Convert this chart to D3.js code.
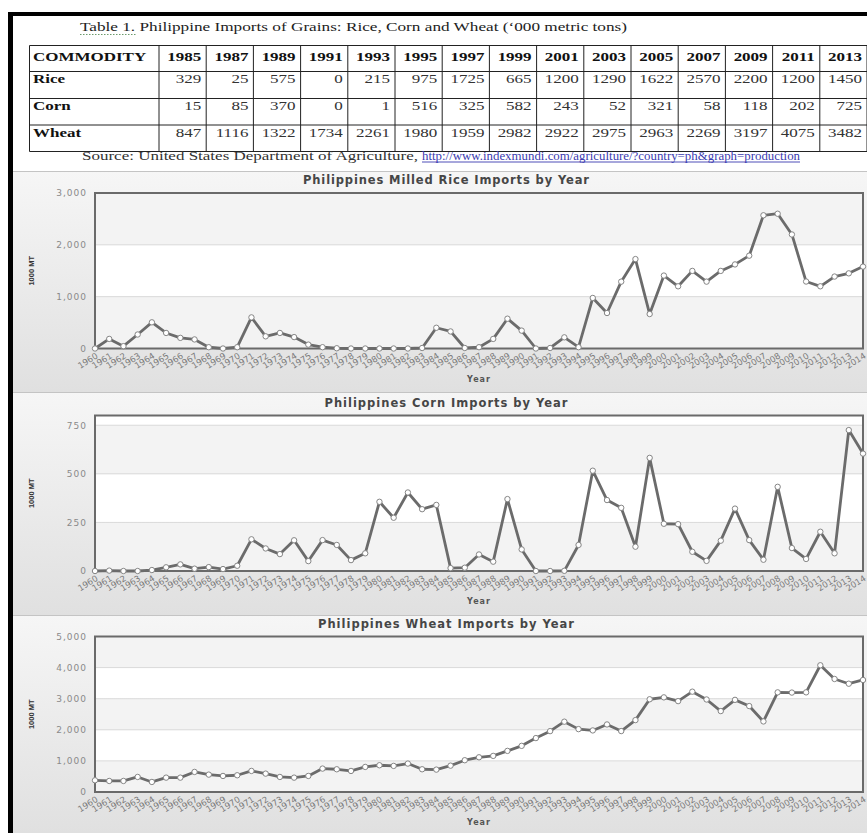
<!DOCTYPE html>
<html>
<head>
<meta charset="utf-8">
<script src="https://cdn.jsdelivr.net/npm/d3@7/dist/d3.min.js"></script>
<style>
  body { margin: 0; background: #fff; }
  svg { display: block; }
</style>
</head>
<body>
<svg id="page" width="867" height="833"></svg>
<script>
// ---- Table 1 data ('000 metric tons) ----
const tableYears = [1985, 1987, 1989, 1991, 1993, 1995, 1997, 1999, 2001, 2003, 2005, 2007, 2009, 2011, 2013];
const tableCommodities = ["Rice", "Corn", "Wheat"];
const tableRice  = [329, 25, 575, 0, 215, 975, 1725, 665, 1200, 1290, 1622, 2570, 2200, 1200, 1450];
const tableCorn  = [15, 85, 370, 0, 1, 516, 325, 582, 243, 52, 321, 58, 118, 202, 725];
const tableWheat = [847, 1116, 1322, 1734, 2261, 1980, 1959, 2982, 2922, 2975, 2963, 2269, 3197, 4075, 3482];

// ---- Yearly import series (1000 MT) ----
const years = [1960, 1961, 1962, 1963, 1964, 1965, 1966, 1967, 1968, 1969,
               1970, 1971, 1972, 1973, 1974, 1975, 1976, 1977, 1978, 1979,
               1980, 1981, 1982, 1983, 1984, 1985, 1986, 1987, 1988, 1989,
               1990, 1991, 1992, 1993, 1994, 1995, 1996, 1997, 1998, 1999,
               2000, 2001, 2002, 2003, 2004, 2005, 2006, 2007, 2008, 2009,
               2010, 2011, 2012, 2013, 2014];
const riceImports = [0, 185, 45, 270, 505, 300, 205, 175, 25, 0,
                     25, 600, 235, 300, 220, 75, 25, 5, 0, 0,
                     0, 0, 0, 10, 400, 329, 10, 25, 185, 575,
                     345, 0, 10, 215, 25, 975, 685, 1290, 1725, 665,
                     1407, 1200, 1497, 1290, 1497, 1622, 1791, 2570, 2600, 2200,
                     1292, 1200, 1388, 1450, 1580];
const cornImports = [0, 2, 0, 0, 5, 19, 34, 12, 20, 10,
                     27, 163, 116, 87, 158, 51, 159, 134, 56, 91,
                     356, 274, 404, 318, 340, 15, 17, 85, 48, 370,
                     111, 0, 0, 1, 134, 516, 365, 325, 125, 582,
                     243, 241, 99, 52, 156, 321, 159, 58, 433, 118,
                     62, 202, 91, 725, 604];
const wheatImports = [376, 355, 355, 484, 323, 462, 462, 645, 559, 516,
                      538, 677, 591, 484, 462, 516, 753, 731, 677, 806,
                      860, 839, 914, 731, 720, 847, 1022, 1116, 1161, 1322,
                      1484, 1734, 1957, 2261, 2022, 1980, 2172, 1959, 2312, 2982,
                      3043, 2922, 3226, 2975, 2602, 2963, 2763, 2269, 3204, 3197,
                      3204, 4075, 3634, 3482, 3602];

// ---- Axis ticks and titles ----
const riceTicks  = [0, 1000, 2000, 3000];
const cornTicks  = [0, 250, 500, 750];
const wheatTicks = [0, 1000, 2000, 3000, 4000, 5000];
const yMaxima    = [3000, 800, 5000];
const chartTitles = [
  "Philippines Milled Rice Imports by Year",
  "Philippines Corn Imports by Year",
  "Philippines Wheat Imports by Year"
];
const yAxisTitle = "1000 MT";
const xAxisTitle = "Year";
const tableCaption = "Table 1. Philippine Imports of Grains: Rice, Corn and Wheat (\u2018000 metric tons)";
const sourceText = "Source: United States Department of Agriculture, ";
const sourceLink = "http://www.indexmundi.com/agriculture/?country=ph&graph=production";

const svg = d3.select("#page");
const W = 867, H = 833;

// gradient for chart panels
const defs = svg.append("defs");
const grad = defs.append("linearGradient").attr("id", "panelGrad")
  .attr("x1", 0).attr("y1", 0).attr("x2", 0).attr("y2", 1);
grad.append("stop").attr("offset", "0%").attr("stop-color", "#f6f6f6");
grad.append("stop").attr("offset", "100%").attr("stop-color", "#e0e0e0");

// ---------------- Table section ----------------
const serif = "'Liberation Serif', 'Times New Roman', serif";
const stretch = 1.36;

svg.append("text")
  .attr("x", 80).attr("y", 31)
  .attr("font-family", serif).attr("font-size", 13.5).attr("fill", "#222")
  .attr("textLength", 547).attr("lengthAdjust", "spacingAndGlyphs")
  .text(tableCaption);
svg.append("line")
  .attr("x1", 80).attr("x2", 137).attr("y1", 34.5).attr("y2", 34.5)
  .attr("stroke", "#6c9a6c").attr("stroke-width", 1).attr("stroke-dasharray", "1.5,1.5");

const tLeft = 29.5, tFirstCol = 159, tRight = 867;
const rowEdges = [45.5, 71.5, 98.5, 125, 151.5];
const col = d3.scaleBand().domain(tableYears).range([tFirstCol, tRight]);
const table = svg.append("g");

// grid lines
rowEdges.forEach(yy => table.append("line")
  .attr("x1", tLeft).attr("x2", tRight).attr("y1", yy).attr("y2", yy)
  .attr("stroke", "#222").attr("stroke-width", 1));
[tLeft, tFirstCol].concat(tableYears.map(d => col(d) + col.bandwidth())).forEach(xx =>
  table.append("line")
    .attr("x1", xx).attr("x2", xx).attr("y1", rowEdges[0]).attr("y2", rowEdges[4])
    .attr("stroke", "#222").attr("stroke-width", 1));

function cellText(x, y, str, anchor, bold, fill) {
  table.append("text")
    .attr("transform", `translate(${x},${y}) scale(${stretch},1)`)
    .attr("text-anchor", anchor)
    .attr("font-family", serif).attr("font-size", 12.5)
    .attr("font-weight", bold ? "bold" : "normal")
    .attr("fill", fill)
    .text(str);
}
cellText(33, rowEdges[0] + 15.5, "COMMODITY", "start", true, "#111");
tableYears.forEach(yr => cellText(col(yr) + col.bandwidth() - 5, rowEdges[0] + 15.5, yr, "end", true, "#111"));
const tableRows = [tableRice, tableCorn, tableWheat];
tableCommodities.forEach((name, i) => {
  const base = rowEdges[i + 1] + 11.8;
  cellText(33, base, name, "start", true, "#111");
  tableRows[i].forEach((v, j) =>
    cellText(col(tableYears[j]) + col.bandwidth() - 5, base, v, "end", false, "#333"));
});

svg.append("text")
  .attr("x", 82).attr("y", 160)
  .attr("font-family", serif).attr("font-size", 12).attr("fill", "#333")
  .attr("textLength", 336).attr("lengthAdjust", "spacingAndGlyphs")
  .text(sourceText);
svg.append("text")
  .attr("x", 422).attr("y", 160)
  .attr("font-family", serif).attr("font-size", 12).attr("fill", "#3b3bb0")
  .attr("textLength", 378).attr("lengthAdjust", "spacingAndGlyphs")
  .text(sourceLink);
svg.append("line")
  .attr("x1", 422).attr("x2", 800).attr("y1", 162).attr("y2", 162)
  .attr("stroke", "#3b3bb0").attr("stroke-width", 0.9);

// ---------------- Chart panels ----------------
const panelTops = [171, 392, 615];
const panelBottoms = [392, 615, H];
const plotTops = [193, 415.5, 636.5];
const titleWidths = [286, 243, 256];
const plotH = 155.5;
const plotL = 95, plotR = 863;
const seriesList = [riceImports, cornImports, wheatImports];
const tickList = [riceTicks, cornTicks, wheatTicks];

const x = d3.scaleLinear().domain([years[0], years[years.length - 1]]).range([plotL, plotR]);

seriesList.forEach((values, i) => {
  const g = svg.append("g");
  const top = plotTops[i], bottom = top + plotH;

  g.append("rect")
    .attr("x", 13).attr("y", panelTops[i])
    .attr("width", W - 13).attr("height", panelBottoms[i] - panelTops[i])
    .attr("fill", "url(#panelGrad)");
  g.append("line")
    .attr("x1", 13).attr("x2", W).attr("y1", panelTops[i] + 0.5).attr("y2", panelTops[i] + 0.5)
    .attr("stroke", "#c4c4c4").attr("stroke-width", 1);

  const y = d3.scaleLinear().domain([0, yMaxima[i]]).range([bottom, top]);
  const ticks = tickList[i];

  // alternating horizontal bands
  const bandEdges = ticks.concat(ticks[ticks.length - 1] < yMaxima[i] ? [yMaxima[i]] : []);
  for (let k = 0; k < bandEdges.length - 1; k++) {
    g.append("rect")
      .attr("x", plotL).attr("width", plotR - plotL)
      .attr("y", y(bandEdges[k + 1])).attr("height", y(bandEdges[k]) - y(bandEdges[k + 1]))
      .attr("fill", k % 2 === 0 ? "#f3f3f3" : "#ffffff");
  }
  // grid lines
  g.selectAll(null).data(ticks.slice(1)).join("line")
    .attr("x1", plotL).attr("x2", plotR)
    .attr("y1", d => y(d)).attr("y2", d => y(d))
    .attr("stroke", "#dadada").attr("stroke-width", 1);

  // y axis labels
  const yAxis = g.append("g").attr("transform", `translate(${plotL},0)`)
    .call(d3.axisLeft(y).tickValues(ticks).tickFormat(d3.format(",")).tickSize(0).tickPadding(8));
  yAxis.select(".domain").remove();
  yAxis.selectAll("text")
    .attr("font-family", "'DejaVu Sans', Verdana, sans-serif")
    .attr("font-size", 9).attr("letter-spacing", 1).attr("fill", "#8a8a8a");

  // x axis labels (rotated years, tightly packed)
  const xAxis = g.append("g").attr("transform", `translate(0,${bottom})`)
    .call(d3.axisBottom(x).tickValues(years).tickFormat(d3.format("d")).tickSize(0));
  xAxis.select(".domain").remove();
  xAxis.selectAll("text")
    .attr("y", 0).attr("dy", 0)
    .attr("text-anchor", "end")
    .attr("transform", "translate(3,9) rotate(-32)")
    .attr("font-family", "'DejaVu Sans', Verdana, sans-serif")
    .attr("font-size", 8.5).attr("fill", "#7a7a7a");

  // plot frame
  g.append("rect")
    .attr("x", plotL).attr("y", top).attr("width", plotR - plotL).attr("height", plotH)
    .attr("fill", "none").attr("stroke", "#6a6a6a").attr("stroke-width", 2);

  // series line and markers
  const line = d3.line().x((d, k) => x(years[k])).y(d => y(d));
  g.append("path").datum(values)
    .attr("d", line).attr("fill", "none")
    .attr("stroke", "#6b6b6b").attr("stroke-width", 2.8).attr("stroke-linejoin", "round");
  g.selectAll(null).data(values).join("circle")
    .attr("cx", (d, k) => x(years[k])).attr("cy", d => y(d)).attr("r", 2.7)
    .attr("fill", "#fff").attr("stroke", "#858585").attr("stroke-width", 1);

  // titles
  g.append("text")
    .attr("x", 446 - titleWidths[i] / 2).attr("y", top - 9)
    .attr("font-family", "'DejaVu Sans', Verdana, sans-serif").attr("font-weight", "bold")
    .attr("font-size", 11.5).attr("fill", "#464646")
    .attr("textLength", titleWidths[i]).attr("lengthAdjust", "spacing")
    .text(chartTitles[i]);
  g.append("text")
    .attr("transform", `translate(34,${(top + bottom) / 2}) rotate(-90)`)
    .attr("text-anchor", "middle")
    .attr("font-family", "'Liberation Sans', Arial, sans-serif").attr("font-weight", "bold")
    .attr("font-size", 7.5).attr("fill", "#333")
    .text(yAxisTitle);
  g.append("text")
    .attr("x", (plotL + plotR) / 2).attr("y", bottom + 33)
    .attr("text-anchor", "middle")
    .attr("font-family", "'DejaVu Sans', Verdana, sans-serif").attr("font-weight", "bold")
    .attr("font-size", 8).attr("letter-spacing", 1).attr("fill", "#555")
    .text(xAxisTitle);
});

// ---------------- Outer frame ----------------
svg.append("rect").attr("x", 8).attr("y", 12).attr("width", W - 8).attr("height", 4).attr("fill", "#000");
svg.append("rect").attr("x", 8).attr("y", 12).attr("width", 5).attr("height", H - 12).attr("fill", "#000");
</script>
</body>
</html>
